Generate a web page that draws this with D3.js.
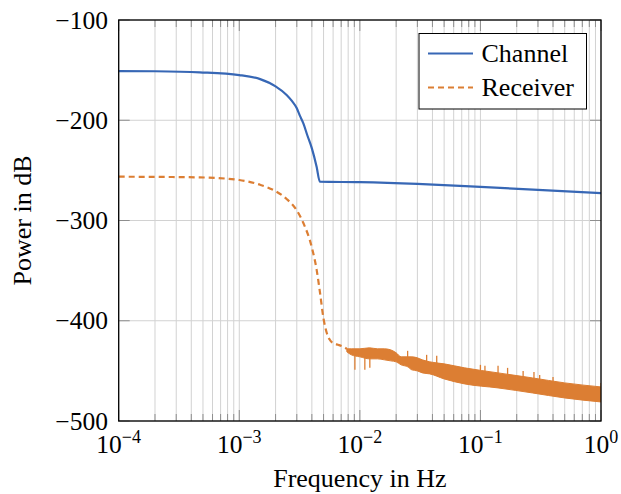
<!DOCTYPE html>
<html><head><meta charset="utf-8">
<script src="https://cdn.jsdelivr.net/npm/d3@7"></script>
<style>
html,body{margin:0;padding:0;background:#fff;}
text{font-family:"Liberation Serif","Times New Roman",serif;fill:#000;}
</style></head>
<body>
<svg id="chart" width="621" height="494"></svg>
<script>
// ---- data ----
const channelFreq = [1e-4, 2e-4, 4.7e-4, 1e-3, 1.49e-3, 2e-3, 2.47e-3, 2.72e-3, 3e-3, 3.18e-3, 3.4e-3, 3.66e-3, 4e-3, 4.38e-3, 4.66e-3, 1e-2, 3e-2, 1e-1, 3e-1, 1];
const channelDb   = [-150.9, -151.1, -152.2, -154.9, -159, -166.2, -174.8, -180.5, -188.1, -195.4, -203.1, -214.7, -228, -246.3, -261.3, -261.8, -263.5, -266.5, -269.5, -272.7];

const receiverFreq = [1e-4, 2e-4, 4.7e-4, 1e-3, 1.49e-3, 2e-3, 2.47e-3, 3e-3, 3.4e-3, 4e-3, 4.38e-3, 4.66e-3, 5e-3, 5.31e-3, 5.6e-3, 6.02e-3, 6.6e-3, 7.3e-3, 7.8e-3];
const receiverDb   = [-256.3, -256.5, -257, -259.6, -264.4, -270.8, -278.5, -290, -302.5, -327, -349, -371, -398, -412, -418.5, -422.5, -424, -426, -428];

// noisy band of the receiver at high frequency (upper / lower envelope)
const bandFreq  = [7.8e-3, 8.5e-3, 1e-2, 1.2e-2, 1.4e-2, 1.6e-2, 1.8e-2, 2e-2, 2.2e-2, 2.5e-2, 2.7e-2, 3e-2, 3.3e-2, 3.8e-2, 5e-2, 7.4e-2, 0.14, 0.27, 0.5, 1];
const bandUpper = [-428, -428, -428, -427, -428, -428, -429, -432, -436, -436, -436, -437, -439, -441, -443, -447, -452, -457, -462, -466];
const bandLower = [-431, -434, -436, -438, -438, -439, -440, -441, -444, -446, -449, -450, -452, -453, -458, -463, -467, -472, -477, -481];

// isolated spikes sticking out of the band
const spikeFreq = [9.1e-3, 1.1e-2, 1.21e-2, 2.49e-2, 3.58e-2, 4.34e-2, 0.1, 0.109, 0.14, 0.168, 0.226, 0.278, 0.31, 0.40, 1.0];
const spikeBase = [-434, -436, -437, -437, -442, -443, -450, -451, -453, -454, -457, -458, -459, -461, -467];
const spikeTip  = [-449, -449, -447, -430, -434, -435, -444, -445, -445, -447, -450, -451, -454, -456, -462];

const xTickExp = [-4, -3, -2, -1, 0];
const yTicks = [-500, -400, -300, -200, -100];
const seriesNames = ["Channel", "Receiver"];

// ---- layout ----
const m = {left: 118.7, right: 601, top: 20, bottom: 421};
const blue = "#3767b5", orange = "#dc7e33";
const svg = d3.select("#chart");

const x = d3.scaleLog().domain([1e-4, 1]).range([m.left, m.right]);
const y = d3.scaleLinear().domain([-500, -100]).range([m.bottom, m.top]);

const minor = [];
for (let e = -4; e < 0; e++) for (let k = 2; k <= 9; k++) minor.push(k * Math.pow(10, e));
const major = xTickExp.map(e => Math.pow(10, e));

// grid
const grid = svg.append("g").attr("stroke", "#d2d2d2").attr("stroke-width", 1);
grid.selectAll(".vmin").data(minor).join("line")
  .attr("x1", d => x(d)).attr("x2", d => x(d)).attr("y1", m.top).attr("y2", m.bottom);
grid.selectAll(".vmaj").data(major).join("line")
  .attr("x1", d => x(d)).attr("x2", d => x(d)).attr("y1", m.top).attr("y2", m.bottom);
grid.selectAll(".h").data(yTicks).join("line")
  .attr("x1", m.left).attr("x2", m.right).attr("y1", d => y(d)).attr("y2", d => y(d));

// ticks (inside)
const tk = svg.append("g").attr("stroke", "#8e8e8e").attr("stroke-width", 1);
[[minor, 7], [major, 11]].forEach(([vals, len]) => {
  tk.selectAll(null).data(vals).join("line")
    .attr("x1", d => x(d)).attr("x2", d => x(d)).attr("y1", m.bottom).attr("y2", m.bottom - len);
  tk.selectAll(null).data(vals).join("line")
    .attr("x1", d => x(d)).attr("x2", d => x(d)).attr("y1", m.top).attr("y2", m.top + len);
});
tk.selectAll(null).data(yTicks).join("line")
  .attr("x1", m.left).attr("x2", m.left + 11).attr("y1", d => y(d)).attr("y2", d => y(d));
tk.selectAll(null).data(yTicks).join("line")
  .attr("x1", m.right).attr("x2", m.right - 11).attr("y1", d => y(d)).attr("y2", d => y(d));

svg.append("clipPath").attr("id", "clip").append("rect")
  .attr("x", m.left).attr("y", m.top).attr("width", m.right - m.left).attr("height", m.bottom - m.top);
const plot = svg.append("g").attr("clip-path", "url(#clip)");

const line = d3.line().curve(d3.curveMonotoneX);
plot.append("path")
  .attr("d", line(channelFreq.map((f, i) => [x(f), y(channelDb[i])])))
  .attr("fill", "none").attr("stroke", blue).attr("stroke-width", 2.2);

plot.append("path")
  .attr("d", line(receiverFreq.map((f, i) => [x(f), y(receiverDb[i])])))
  .attr("fill", "none").attr("stroke", orange).attr("stroke-width", 2.2)
  .attr("stroke-dasharray", "6,4");

const area = d3.area().curve(d3.curveMonotoneX)
  .x((d, i) => x(bandFreq[i]))
  .y0((d, i) => y(bandLower[i]))
  .y1((d, i) => y(bandUpper[i]));
plot.append("path").attr("d", area(bandFreq))
  .attr("fill", orange).attr("stroke", orange).attr("stroke-width", 1);

plot.selectAll(".spike").data(spikeFreq).join("line")
  .attr("x1", d => x(d)).attr("x2", d => x(d))
  .attr("y1", (d, i) => y(spikeBase[i])).attr("y2", (d, i) => y(spikeTip[i]))
  .attr("stroke", orange).attr("stroke-width", 1.3);

// frame
svg.append("rect").attr("x", m.left).attr("y", m.top)
  .attr("width", m.right - m.left).attr("height", m.bottom - m.top)
  .attr("fill", "none").attr("stroke", "#000").attr("stroke-width", 1.3);

// y tick labels
svg.selectAll(".ylab").data(yTicks).join("text")
  .attr("x", 108).attr("y", d => y(d) + 8.5)
  .attr("text-anchor", "end").attr("font-size", 25.5)
  .text(d => "\u2212" + Math.abs(d));

// x tick labels
xTickExp.forEach(e => {
  const t = svg.append("text").attr("x", x(Math.pow(10, e))).attr("y", 452.5)
    .attr("text-anchor", "middle").attr("font-size", 25.5);
  t.append("tspan").text("10");
  t.append("tspan").attr("dy", -9.5).attr("font-size", 18).text(e < 0 ? "\u2212" + Math.abs(e) : String(e));
});

svg.append("text").attr("x", (m.left + m.right) / 2).attr("y", 487)
  .attr("text-anchor", "middle").attr("font-size", 26).text("Frequency in Hz");
svg.append("text").attr("transform", `translate(31,${(m.top + m.bottom) / 2}) rotate(-90)`)
  .attr("text-anchor", "middle").attr("font-size", 26).text("Power in dB");

// legend
const lg = svg.append("g");
lg.append("rect").attr("x", 419).attr("y", 33.5).attr("width", 167.5).attr("height", 75.5)
  .attr("fill", "#fff").attr("stroke", "#000").attr("stroke-width", 1);
const ly = [53.5, 87.5];
seriesNames.forEach((n, i) => {
  lg.append("line").attr("x1", 428).attr("x2", 473).attr("y1", ly[i]).attr("y2", ly[i])
    .attr("stroke", i === 0 ? blue : orange).attr("stroke-width", 2.2)
    .attr("stroke-dasharray", i === 0 ? null : "6,4");
  lg.append("text").attr("x", 481.5).attr("y", ly[i] + 8.5).attr("font-size", 26).text(n);
});
</script>
</body></html>
